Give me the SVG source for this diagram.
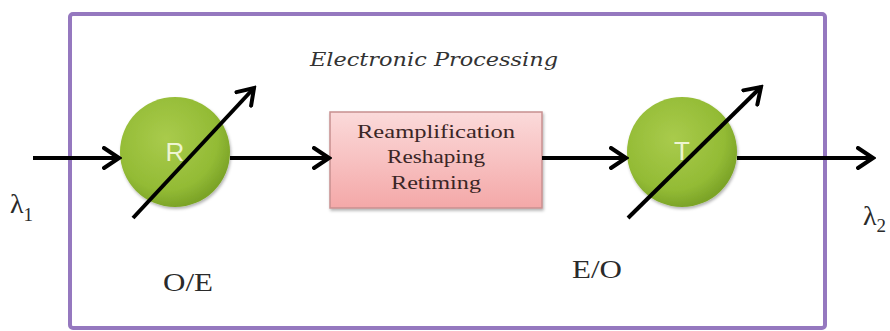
<svg xmlns="http://www.w3.org/2000/svg" width="890" height="331" viewBox="0 0 890 331">
  <style>
    .ln { stroke: #000; stroke-width: 4; fill: none; }
    .lbl { font-family: "Liberation Serif", "Times New Roman", serif; fill: #2a2a2a; }
    .big { font-size: 25px; }
    .ttl { font-family: "DejaVu Serif", serif; font-style: italic; font-size: 18px; fill: #333; }
    .boxtxt { font-family: "Liberation Serif", "Times New Roman", serif; font-size: 18px; fill: #3a2626; text-anchor: middle; }
    .circtxt { font-family: "Liberation Sans", Arial, sans-serif; font-size: 26px; fill: #eef5d2; text-anchor: middle; }
  </style>
  <defs>
    <marker id="arr" markerUnits="userSpaceOnUse" viewBox="0 0 20 24" refX="17" refY="12" markerWidth="20" markerHeight="24" orient="auto">
      <path d="M2,2 L17,12 L2,22" fill="none" stroke="#000" stroke-width="4" stroke-linejoin="miter" stroke-linecap="round"/>
    </marker>
    <radialGradient id="green" cx="0.42" cy="0.38" r="0.62">
      <stop offset="0" stop-color="#a9cb4c"/>
      <stop offset="0.75" stop-color="#93bb35"/>
      <stop offset="1" stop-color="#7ca428"/>
    </radialGradient>
    <linearGradient id="pink" x1="0" y1="0" x2="0" y2="1">
      <stop offset="0" stop-color="#fbdada"/>
      <stop offset="1" stop-color="#f4a8a8"/>
    </linearGradient>
    <filter id="sh" x="-10%" y="-10%" width="130%" height="130%">
      <feDropShadow dx="1" dy="2" stdDeviation="1.5" flood-color="#000" flood-opacity="0.3"/>
    </filter>
  </defs>

  <rect width="890" height="331" fill="#fff"/>

  <g id="frame">
    <rect x="70" y="14" width="755" height="314" rx="3" fill="none" stroke="#9578bf" stroke-width="4"/>
    <text class="ttl" x="310" y="66" textLength="248" lengthAdjust="spacingAndGlyphs">Electronic Processing</text>
  </g>

  <g id="receiver">
    <circle cx="175" cy="152" r="55" fill="url(#green)" filter="url(#sh)"/>
    <text class="circtxt" x="175" y="161">R</text>
  </g>

  <g id="processing">
    <rect x="330" y="112" width="212" height="96" fill="url(#pink)" stroke="#c89090" stroke-width="1.5" filter="url(#sh)"/>
    <text class="boxtxt" x="436" y="138" textLength="158" lengthAdjust="spacingAndGlyphs">Reamplification</text>
    <text class="boxtxt" x="436" y="163" textLength="98" lengthAdjust="spacingAndGlyphs">Reshaping</text>
    <text class="boxtxt" x="436" y="189" textLength="90" lengthAdjust="spacingAndGlyphs">Retiming</text>
  </g>

  <g id="transmitter">
    <circle cx="682" cy="152" r="55" fill="url(#green)" filter="url(#sh)"/>
    <text class="circtxt" x="682" y="160">T</text>
  </g>

  <g id="connectors">
    <line class="ln" x1="33" y1="158" x2="119" y2="158" marker-end="url(#arr)"/>
    <line class="ln" x1="230" y1="158" x2="329" y2="158" marker-end="url(#arr)"/>
    <line class="ln" x1="542" y1="158" x2="626" y2="158" marker-end="url(#arr)"/>
    <line class="ln" x1="737" y1="158" x2="873" y2="158" marker-end="url(#arr)"/>
    <line class="ln" x1="133" y1="218" x2="254" y2="88" marker-end="url(#arr)"/>
    <line class="ln" x1="628" y1="218" x2="761" y2="87" marker-end="url(#arr)"/>
  </g>

  <g id="labels">
    <text class="lbl" x="10" y="213" font-size="28">λ<tspan font-size="19" dy="8">1</tspan></text>
    <text class="lbl" x="863" y="225" font-size="28">λ<tspan font-size="19" dy="7">2</tspan></text>
    <text class="lbl big" x="163" y="291" textLength="50" lengthAdjust="spacingAndGlyphs" fill="#333">O/E</text>
    <text class="lbl big" x="572" y="278" textLength="50" lengthAdjust="spacingAndGlyphs" fill="#333">E/O</text>
  </g>
</svg>
